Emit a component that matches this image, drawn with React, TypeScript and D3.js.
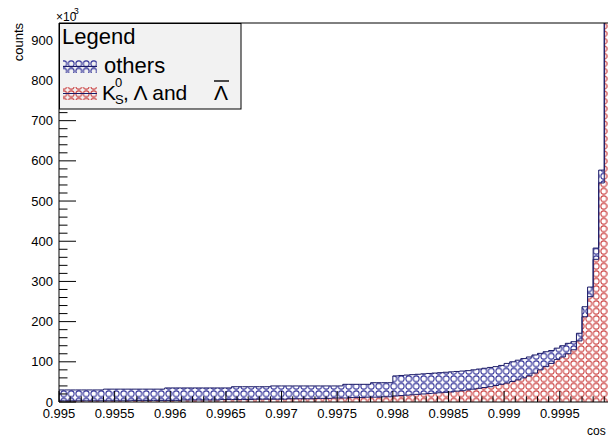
import React from "react";
import * as d3 from "d3";

// histogram binning (cos of pointing angle)
const xMin = 0.995;
const xMax = 1.0;
const nBins = 100;

// counts per bin, in units of 10^3
const kshortCounts = [
  3, 3, 3, 3, 3, 3, 3, 3, 3, 3,
  3, 3, 3, 4, 4, 4, 4, 4, 4, 4,
  4, 4, 5, 5, 5, 5, 5, 5, 5, 6,
  6, 6, 6, 6, 6, 7, 7, 7, 7, 7,
  7, 8, 8, 8, 8, 8, 9, 9, 9, 10,
  10, 10, 11, 11, 11, 12, 12, 12, 13, 13,
  15, 16, 17, 18, 19, 20, 21, 22, 23, 24,
  25, 27, 28, 30, 32, 34, 36, 38, 41, 44,
  47, 51, 55, 60, 65, 72, 80, 88, 96, 106,
  112, 120, 130, 152, 212, 262, 355, 545, 1180, 2350,
];

const otherCounts = [
  27, 27, 27, 27, 27, 27, 27, 27, 29, 29,
  29, 29, 29, 28, 28, 28, 28, 28, 28, 31,
  31, 31, 30, 30, 30, 30, 30, 30, 30, 29,
  29, 32, 32, 32, 32, 31, 31, 31, 33, 33,
  33, 32, 32, 32, 32, 32, 31, 31, 31, 30,
  30, 34, 33, 33, 33, 32, 36, 36, 35, 35,
  50, 50, 50, 50, 50, 50, 50, 50, 50, 50,
  50, 49, 49, 48, 48, 48, 48, 48, 47, 47,
  49, 49, 49, 48, 47, 45, 41, 37, 32, 28,
  28, 26, 20, 19, 25, 24, 28, 32, 70, 150,
];

const yMax = 943;
const yTickLabels = ["0", "100", "200", "300", "400", "500", "600", "700", "800", "900"];
const xTickLabels = ["0.995", "0.9955", "0.996", "0.9965", "0.997", "0.9975", "0.998", "0.9985", "0.999", "0.9995"];
const legendLabels = ["others", "K", "0", "S", ", \u039b and", "\u039b"];

const FONT = "'Liberation Sans', Arial, Helvetica, sans-serif";
const LINE = "#1a1a66";

export default function App() {
  const width = 608;
  const height = 439;
  const frame = { left: 59, top: 23, right: 615.4, bottom: 402 };

  const x = d3.scaleLinear().domain([xMin, xMax]).range([frame.left, frame.right]);
  const y = d3.scaleLinear().domain([0, yMax]).range([frame.bottom, frame.top]);
  const binW = (xMax - xMin) / nBins;

  const bins = kshortCounts.map((k, i) => ({
    lo: xMin + i * binW,
    k,
    tot: k + otherCounts[i],
  }));
  const last = bins[bins.length - 1];
  const areaPts = [...bins, { lo: xMax, k: last.k, tot: last.tot }];

  type B = { lo: number; k: number; tot: number };
  const otherArea = d3
    .area<B>()
    .curve(d3.curveStepAfter)
    .x((d) => x(d.lo))
    .y0((d) => y(d.k))
    .y1((d) => y(d.tot));
  const kArea = d3
    .area<B>()
    .curve(d3.curveStepAfter)
    .x((d) => x(d.lo))
    .y0(() => y(0))
    .y1((d) => y(d.k));

  type P = { x: number; v: number };
  const outline = d3
    .line<P>()
    .curve(d3.curveStepAfter)
    .x((d) => x(d.x))
    .y((d) => y(d.v));
  const outlinePts = (key: "k" | "tot"): P[] => [
    { x: xMin, v: 0 },
    ...bins.map((b) => ({ x: b.lo, v: b[key] })),
    { x: xMax, v: last[key] },
    { x: xMax, v: 0 },
  ];

  const yMajor = yTickLabels.map((t) => +t);
  const yMinor = d3.range(0, yMax, 20).filter((v) => v % 100 !== 0);
  const xMajor = d3.range(0, 11).map((i) => xMin + i * 0.0005);
  const xMinor = d3.range(0, 50).map((i) => xMin + i * 0.0001).filter((_, i) => i % 5 !== 0);

  const circ = (color: string) => (
    <circle cx={3.75} cy={3.75} r={2.9} fill="none" stroke={color} strokeWidth={1} />
  );

  return (
    <svg
      width={width}
      height={height}
      style={{ position: "absolute", left: 0, top: 0, background: "#fff" }}
      fontFamily={FONT}
    >
      <defs>
        <pattern id="circBlue" width={7.5} height={7.5} patternUnits="userSpaceOnUse">
          {circ("#20208f")}
        </pattern>
        <pattern id="circRed" width={7.5} height={7.5} patternUnits="userSpaceOnUse">
          {circ("#c83636")}
        </pattern>
        <clipPath id="plotClip">
          <rect x={frame.left} y={frame.top} width={frame.right - frame.left} height={frame.bottom - frame.top} />
        </clipPath>
      </defs>

      {/* stacked histogram */}
      <g clipPath="url(#plotClip)">
        <path d={otherArea(areaPts) ?? ""} fill="url(#circBlue)" />
        <path d={kArea(areaPts) ?? ""} fill="url(#circRed)" />
        <path d={outline(outlinePts("tot")) ?? ""} fill="none" stroke={LINE} strokeWidth={1} />
        <path d={outline(outlinePts("k")) ?? ""} fill="none" stroke={LINE} strokeWidth={1} />
      </g>

      {/* frame */}
      <line x1={frame.left} x2={frame.right} y1={frame.top} y2={frame.top} stroke="#000" />

      {/* y axis */}
      <line x1={frame.left} x2={frame.left} y1={frame.top} y2={frame.bottom} stroke="#000" />
      {yMajor.map((v) => (
        <line key={"ym" + v} x1={frame.left} x2={frame.left + 17} y1={y(v)} y2={y(v)} stroke="#000" />
      ))}
      {yMinor.map((v) => (
        <line key={"yn" + v} x1={frame.left} x2={frame.left + 8.5} y1={y(v)} y2={y(v)} stroke="#000" />
      ))}
      {yTickLabels.map((t) => (
        <text key={"yl" + t} x={frame.left - 6} y={y(+t) + 4.6} textAnchor="end" fontSize={13}>
          {t}
        </text>
      ))}
      <text transform={`translate(23,${frame.top}) rotate(-90)`} textAnchor="end" fontSize={13}>
        counts
      </text>
      <text x={56} y={21} fontSize={12}>
        {"\u00d710"}
      </text>
      <text x={74} y={14} fontSize={8.5}>
        3
      </text>

      {/* x axis */}
      <line x1={frame.left} x2={frame.right} y1={frame.bottom} y2={frame.bottom} stroke="#000" />
      {xMajor.map((v, i) => (
        <line key={"xm" + i} x1={x(v)} x2={x(v)} y1={frame.bottom} y2={frame.bottom - 11} stroke="#000" />
      ))}
      {xMinor.map((v, i) => (
        <line key={"xn" + i} x1={x(v)} x2={x(v)} y1={frame.bottom} y2={frame.bottom - 5.7} stroke="#000" />
      ))}
      {xTickLabels.map((t) => (
        <text key={"xl" + t} x={x(+t)} y={418} textAnchor="middle" fontSize={13}>
          {t}
        </text>
      ))}
      <text x={587} y={435} fontSize={12}>
        cos
      </text>

      {/* legend */}
      <rect x={59.5} y={23.5} width={181.5} height={85.5} fill="#f2f2f2" stroke="#000" />
      <text x={62} y={44} fontSize={22}>
        Legend
      </text>
      <rect x={63} y={60} width={34} height={13} fill="url(#circBlue)" />
      <line x1={63} x2={97} y1={66.5} y2={66.5} stroke={LINE} strokeWidth={1} />
      <text x={104} y={73} fontSize={22}>
        {legendLabels[0]}
      </text>
      <rect x={63} y={87} width={34} height={13} fill="url(#circRed)" />
      <line x1={63} x2={97} y1={93.5} y2={93.5} stroke={LINE} strokeWidth={1} />
      <text x={102} y={100} fontSize={21}>
        {legendLabels[1]}
      </text>
      <text x={115} y={87} fontSize={13}>
        {legendLabels[2]}
      </text>
      <text x={115} y={104} fontSize={13}>
        {legendLabels[3]}
      </text>
      <text x={123} y={100} fontSize={21}>
        {legendLabels[4]}
      </text>
      <text x={214} y={100} fontSize={21}>
        {legendLabels[5]}
      </text>
      <line x1={214} x2={229} y1={81} y2={81} stroke="#000" strokeWidth={1.4} />
    </svg>
  );
}
